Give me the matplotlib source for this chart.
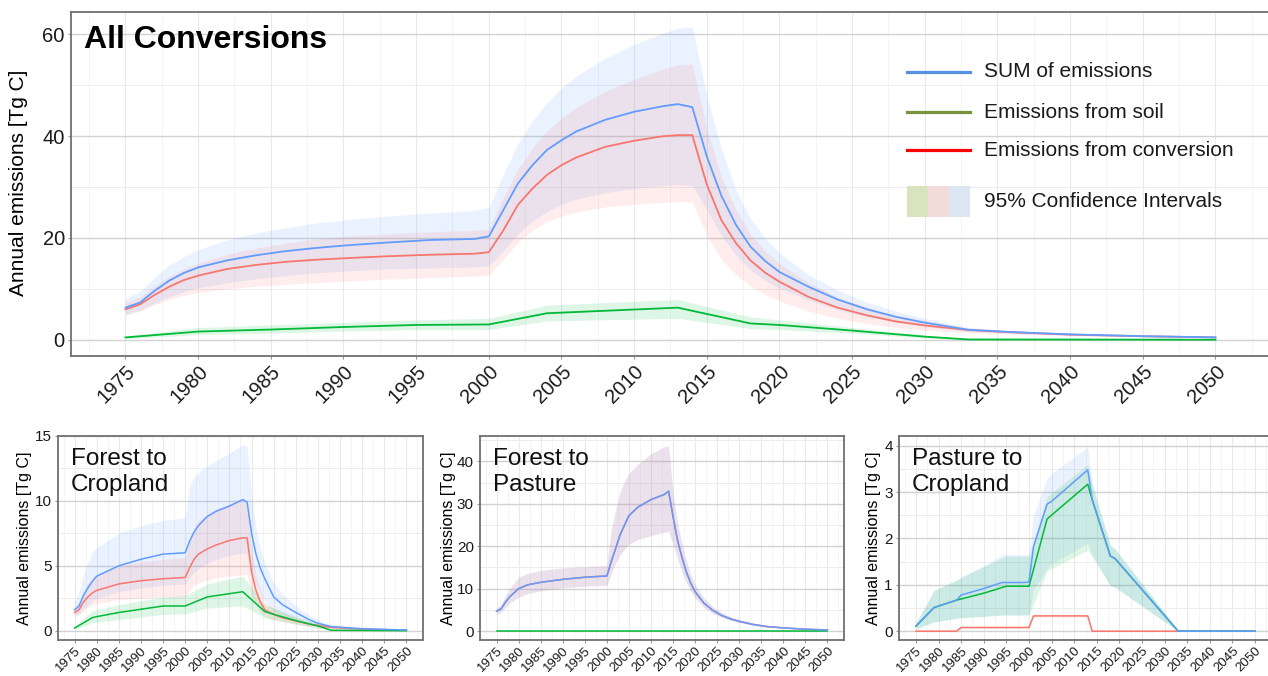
import matplotlib
matplotlib.use("Agg")
import matplotlib.pyplot as plt
from matplotlib.lines import Line2D
from matplotlib.patches import Rectangle

plt.rcParams['font.family'] = ['Liberation Sans', 'DejaVu Sans']

# ---------------- DATA ----------------
x_ticks = list(range(1975, 2051, 5))
x_tick_labels = [str(y) for y in x_ticks]

# All conversions
years_main = [1975, 1976, 1977, 1978, 1979, 1980, 1982, 1984, 1986, 1988, 1990, 1993, 1996, 1999,
              2000, 2001, 2002, 2003, 2004, 2005, 2006, 2008, 2010, 2012, 2013, 2014, 2015, 2016,
              2017, 2018, 2019, 2020, 2022, 2024, 2026, 2028, 2030, 2033, 2036, 2040, 2045, 2050]
sum_main = [6.3, 7.3, 9.6, 11.6, 13.1, 14.2, 15.6, 16.6, 17.4, 18.0, 18.5, 19.1, 19.6, 19.8,
            20.3, 25.5, 30.7, 34.3, 37.3, 39.2, 40.9, 43.2, 44.8, 45.9, 46.3, 45.7, 36.0, 28.3,
            22.6, 18.3, 15.5, 13.3, 10.4, 7.9, 6.0, 4.5, 3.35, 1.95, 1.5, 1.05, 0.7, 0.47]
sum_main_lo = [5.0, 5.8, 7.2, 8.4, 9.4, 10.2, 11.2, 12.0, 12.6, 13.1, 13.5, 13.9, 14.1, 14.3,
               14.5, 17.5, 20.8, 23.3, 25.2, 26.6, 27.6, 28.9, 29.7, 30.3, 30.5, 30.3, 25.5, 20.5,
               16.6, 13.7, 11.7, 10.1, 7.8, 5.9, 4.5, 3.4, 2.6, 1.6, 1.3, 0.9, 0.6, 0.4]
sum_main_hi = [8.1, 9.5, 12.3, 14.6, 16.3, 17.7, 19.6, 21.0, 22.0, 22.9, 23.5, 24.3, 24.9, 25.4,
               26.0, 32.5, 38.5, 43.0, 46.5, 49.5, 51.8, 55.3, 58.0, 60.3, 61.2, 61.5, 48.0, 37.5,
               29.5, 23.8, 20.0, 17.0, 12.8, 9.7, 7.4, 5.6, 4.2, 2.4, 1.8, 1.2, 0.8, 0.55]
conv_main = [5.97, 6.95, 8.8, 10.4, 11.7, 12.6, 13.9, 14.7, 15.3, 15.7, 16.0, 16.4, 16.7, 16.9,
             17.2, 21.5, 26.5, 29.7, 32.4, 34.3, 35.8, 37.9, 39.1, 40.0, 40.2, 40.2, 30.5, 23.5,
             19.0, 15.6, 13.2, 11.4, 8.4, 6.3, 4.8, 3.6, 2.8, 1.9, 1.45, 1.0, 0.68, 0.45]
conv_main_lo = [4.8, 5.6, 6.9, 7.9, 8.7, 9.3, 10.0, 10.5, 10.9, 11.2, 11.5, 11.9, 12.2, 12.5,
                12.7, 15.8, 19.2, 21.5, 23.2, 24.3, 25.1, 26.1, 26.6, 27.0, 27.1, 27.1, 20.5, 15.8,
                12.8, 10.5, 8.9, 7.6, 5.6, 4.2, 3.2, 2.4, 1.9, 1.4, 1.1, 0.8, 0.55, 0.35]
conv_main_hi = [7.3, 8.4, 10.6, 12.5, 13.9, 15.0, 16.8, 18.0, 19.0, 19.8, 20.3, 20.8, 21.2, 21.5,
                21.7, 28.0, 33.5, 37.7, 41.0, 43.6, 45.6, 48.8, 51.2, 53.2, 54.0, 54.2, 41.5, 32.0,
                25.6, 20.8, 17.5, 15.0, 11.2, 8.4, 6.4, 4.8, 3.8, 2.3, 1.75, 1.15, 0.78, 0.5]
years_soil_main = [1975, 1980, 1985, 1990, 1995, 2000, 2004, 2013, 2018, 2020, 2025, 2030, 2033, 2050]
soil_main = [0.45, 1.6, 2.0, 2.5, 2.9, 3.0, 5.2, 6.3, 3.2, 2.9, 1.8, 0.6, 0.05, 0.0]
soil_main_lo = [0.2, 1.0, 1.3, 1.7, 2.0, 2.0, 3.7, 4.2, 2.2, 2.0, 1.3, 0.3, 0.0, 0.0]
soil_main_hi = [0.7, 2.4, 2.9, 3.4, 3.9, 4.2, 6.8, 7.9, 4.5, 3.9, 2.4, 0.9, 0.15, 0.05]

# Forest to Cropland
years_fc = [1975, 1976, 1977, 1978, 1979, 1980, 1985, 1990, 1995, 2000, 2001, 2002, 2003, 2005, 2007,
            2010, 2013, 2014, 2015, 2016, 2017, 2018, 2020, 2022, 2025, 2028, 2030, 2033, 2040, 2050]
sum_fc = [1.6, 1.9, 2.7, 3.3, 3.8, 4.2, 5.0, 5.5, 5.9, 6.0, 6.9, 7.6, 8.1, 8.8, 9.2,
          9.6, 10.1, 9.9, 7.5, 5.9, 4.8, 4.0, 2.6, 2.0, 1.4, 0.85, 0.57, 0.31, 0.15, 0.05]
sum_fc_lo = [1.2, 1.3, 1.7, 2.0, 2.3, 2.5, 3.0, 3.3, 3.5, 3.6, 4.1, 4.5, 4.8, 5.2, 5.5,
             5.8, 6.0, 5.9, 4.5, 3.5, 2.8, 2.3, 1.5, 1.2, 0.8, 0.5, 0.33, 0.2, 0.1, 0.03]
sum_fc_hi = [2.2, 3.0, 4.3, 5.3, 6.0, 6.4, 7.5, 8.1, 8.5, 8.7, 11.2, 11.8, 12.2, 12.7, 13.1,
             13.7, 14.3, 14.2, 10.5, 8.0, 6.3, 5.2, 3.7, 2.8, 1.9, 1.2, 0.85, 0.45, 0.22, 0.08]
conv_fc = [1.4, 1.6, 2.2, 2.6, 2.9, 3.1, 3.6, 3.85, 4.0, 4.1, 4.85, 5.5, 5.9, 6.3, 6.6,
           6.95, 7.15, 7.15, 4.5, 3.1, 2.2, 1.6, 1.25, 1.0, 0.75, 0.5, 0.4, 0.25, 0.12, 0.04]
conv_fc_lo = [1.1, 1.2, 1.5, 1.8, 2.0, 2.1, 2.4, 2.5, 2.6, 2.6, 3.1, 3.5, 3.7, 3.9, 4.1,
              4.2, 4.3, 4.3, 2.8, 2.0, 1.4, 1.1, 0.85, 0.7, 0.5, 0.33, 0.26, 0.16, 0.08, 0.02]
conv_fc_hi = [1.8, 2.1, 3.0, 3.6, 4.0, 4.3, 5.0, 5.3, 5.5, 5.6, 6.9, 7.9, 8.5, 9.0, 9.4,
              9.8, 10.0, 10.0, 6.3, 4.3, 3.1, 2.2, 1.7, 1.4, 1.0, 0.68, 0.55, 0.34, 0.16, 0.06]
years_soil_fc = [1975, 1979, 1980, 1985, 1990, 1995, 2000, 2005, 2013, 2018, 2020, 2025, 2030, 2033, 2050]
soil_fc = [0.2, 1.0, 1.08, 1.4, 1.65, 1.9, 1.9, 2.6, 3.0, 1.47, 1.26, 0.77, 0.36, 0.03, 0.0]
soil_fc_lo = [0.1, 0.6, 0.65, 0.85, 1.05, 1.25, 1.3, 1.75, 1.9, 1.0, 0.85, 0.5, 0.2, 0.0, 0.0]
soil_fc_hi = [0.35, 1.5, 1.6, 2.0, 2.3, 2.6, 2.7, 3.6, 4.2, 2.0, 1.75, 1.1, 0.55, 0.08, 0.02]

# Forest to Pasture
years_fp = [1975, 1976, 1977, 1978, 1980, 1982, 1985, 1990, 1995, 2000, 2001, 2002, 2003, 2004, 2005,
            2007, 2010, 2013, 2014, 2015, 2016, 2017, 2018, 2019, 2020, 2022, 2024, 2026, 2028, 2030,
            2033, 2036, 2040, 2045, 2050]
sum_fp = [4.7, 5.2, 6.8, 8.1, 10.0, 10.9, 11.5, 12.2, 12.7, 13.0, 16.4, 19.5, 22.7, 25.0, 27.2,
          29.2, 31.0, 32.2, 33.0, 27.0, 21.5, 17.5, 14.0, 11.3, 9.3, 6.6, 4.9, 3.7, 2.9, 2.3,
          1.6, 1.1, 0.75, 0.45, 0.25]
sum_fp_lo = [4.0, 4.4, 5.6, 6.6, 8.0, 8.8, 9.5, 10.2, 10.6, 10.8, 13.5, 16.0, 18.0, 19.3, 20.5,
             21.6, 22.5, 23.3, 23.5, 20.5, 17.0, 14.0, 11.5, 9.4, 7.8, 5.6, 4.2, 3.2, 2.5, 2.0,
             1.4, 0.95, 0.65, 0.38, 0.2]
sum_fp_hi = [5.5, 6.2, 8.3, 10.0, 12.7, 13.6, 14.3, 14.9, 15.2, 15.5, 23.9, 28.6, 32.9, 35.3, 37.2,
             39.3, 41.8, 43.4, 43.7, 32.5, 25.5, 20.8, 16.6, 13.4, 11.0, 7.8, 5.8, 4.4, 3.4, 2.7,
             1.9, 1.3, 0.9, 0.55, 0.3]
conv_fp = sum_fp
conv_fp_lo = sum_fp_lo
conv_fp_hi = sum_fp_hi
years_soil_fp = [1975, 2050]
soil_fp = [0.0, 0.0]

# Pasture to Cropland
years_pc = [1975, 1979, 1984, 1985, 1990, 1994, 1999, 2000, 2001, 2004, 2005, 2013, 2014, 2018, 2019, 2033, 2050]
sum_pc = [0.11, 0.51, 0.67, 0.78, 0.92, 1.05, 1.05, 1.06, 1.82, 2.74, 2.8, 3.48, 2.83, 1.62, 1.57, 0.0, 0.0]
sum_pc_lo = [0.05, 0.2, 0.28, 0.3, 0.32, 0.35, 0.35, 0.36, 0.9, 1.35, 1.45, 1.9, 1.65, 0.98, 0.95, 0.0, 0.0]
sum_pc_hi = [0.17, 0.88, 1.1, 1.18, 1.4, 1.65, 1.65, 1.66, 2.5, 3.3, 3.4, 3.97, 3.2, 1.85, 1.78, 0.02, 0.0]
years_soil_pc = [1975, 1979, 1984, 1990, 1995, 2000, 2004, 2013, 2014, 2018, 2019, 2033, 2050]
soil_pc = [0.11, 0.51, 0.67, 0.82, 0.97, 0.97, 2.42, 3.17, 2.83, 1.62, 1.57, 0.0, 0.0]
soil_pc_lo = [0.05, 0.2, 0.28, 0.32, 0.35, 0.35, 1.3, 1.75, 1.6, 0.98, 0.95, 0.0, 0.0]
soil_pc_hi = [0.17, 0.88, 1.1, 1.4, 1.62, 1.62, 2.9, 3.6, 3.15, 1.85, 1.78, 0.02, 0.0]
years_conv_pc = [1975, 1984, 1985, 2000, 2001, 2013, 2014, 2050]
conv_pc = [0.0, 0.0, 0.08, 0.08, 0.33, 0.33, 0.0, 0.0]
conv_pc_lo = [0.0, 0.0, 0.06, 0.06, 0.3, 0.3, 0.0, 0.0]
conv_pc_hi = [0.0, 0.0, 0.1, 0.1, 0.36, 0.36, 0.0, 0.0]

legend_labels = ["SUM of emissions", "Emissions from soil", "Emissions from conversion"]
ci_label = "95% Confidence Intervals"
ylabel = "Annual emissions [Tg C]"

# ---------------- STYLE ----------------
C_BLUE = '#619CFF'
C_RED = '#F8766D'
C_GREEN = '#00BA38'
BAND_A = 0.13

W, H = 1268, 676
fig = plt.figure(figsize=(W / 100, H / 100), dpi=100)


def px_rect(x0, x1, ytop, ybot):
    return [x0 / W, 1 - ybot / H, (x1 - x0) / W, (ybot - ytop) / H]


def style_axes(ax, ylim, yticks, yminor, xfs, yfs, xpad):
    ax.set_xlim(1971.25, 2053.75)
    ax.set_ylim(*ylim)
    ax.set_xticks(x_ticks)
    ax.set_xticklabels(x_tick_labels, rotation=45, ha='right', va='top',
                       rotation_mode='anchor', fontsize=xfs, color='#1a1a1a')
    ax.set_xticks([y + 2.5 for y in range(1970, 2051, 5)], minor=True)
    ax.set_yticks(yticks)
    ax.set_yticklabels([str(t) for t in yticks], fontsize=yfs, color='#1a1a1a')
    ax.set_yticks(yminor, minor=True)
    ax.tick_params(which='major', length=2.5, width=0.8, color='#999999', pad=2)
    ax.tick_params(axis='x', which='major', pad=xpad)
    ax.tick_params(which='minor', length=0)
    ax.grid(which='major', axis='y', color='#d2d2d2', lw=1.0)
    ax.grid(which='minor', axis='y', color='#ececec', lw=0.7)
    ax.grid(which='major', axis='x', color='#eaeaea', lw=0.8)
    ax.grid(which='minor', axis='x', color='#f2f2f2', lw=0.6)
    ax.set_axisbelow(True)
    for s in ax.spines.values():
        s.set_color('#707070')
        s.set_linewidth(1.3)


def draw(ax, ys, s, slo, shi, yc, c, clo, chi, yso, so, solo, sohi, lw):
    ax.fill_between(ys, slo, shi, color=C_BLUE, alpha=BAND_A, lw=0)
    ax.fill_between(yc, clo, chi, color=C_RED, alpha=BAND_A, lw=0)
    if solo is not None:
        ax.fill_between(yso, solo, sohi, color=C_GREEN, alpha=BAND_A, lw=0)
    ax.plot(yc, c, color=C_RED, lw=lw, zorder=3)
    ax.plot(yso, so, color=C_GREEN, lw=lw, zorder=4)
    ax.plot(ys, s, color=C_BLUE, lw=lw, zorder=5)


# ---- Main panel ----
ax = fig.add_axes(px_rect(71, 1270, 12, 356))
draw(ax, years_main, sum_main, sum_main_lo, sum_main_hi,
     years_main, conv_main, conv_main_lo, conv_main_hi,
     years_soil_main, soil_main, soil_main_lo, soil_main_hi, 1.3)
style_axes(ax, (-3.2, 64.4), [0, 20, 40, 60], [10, 30, 50], 14.5, 14.5, 2)
fig.text(84 / W, 1 - 25 / H, "All Conversions", fontsize=23, fontweight='bold',
         ha='left', va='top')
fig.text(19 / W, 1 - 183 / H, ylabel, rotation=90, ha='center', va='center', fontsize=15)

# legend (manual, in axes fraction)
leg_cols = ['#5591e0', '#77933c', '#ff0000']
leg_y = [0.8256, 0.7093, 0.5988]
for lab, col, yy in zip(legend_labels, leg_cols, leg_y):
    ax.add_line(Line2D([0.697, 0.750], [yy, yy], color=col, lw=2.3,
                       transform=ax.transAxes, zorder=10))
    ax.text(0.7615, yy, lab, transform=ax.transAxes, fontsize=15, va='center', ha='left',
            color='#1a1a1a', zorder=10)
ci_cols = ['#d7e4bd', '#f2dcdb', '#dce6f2']
for i, col in enumerate(ci_cols):
    ax.add_patch(Rectangle((0.697 + i * 0.0175, 0.404), 0.0175, 0.090, color=col,
                           transform=ax.transAxes, lw=0, zorder=10))
ax.text(0.7615, 0.4477, ci_label, transform=ax.transAxes, fontsize=15, va='center', ha='left',
        color='#1a1a1a', zorder=10)

# ---- Bottom panels ----
panels = [
    dict(rect=(58, 423), title="Forest to\nCropland", tx=71, ylx=25,
         ylim=(-0.72, 15.0), yt=[0, 5, 10, 15], ym=[2.5, 7.5, 12.5],
         data=(years_fc, sum_fc, sum_fc_lo, sum_fc_hi, years_fc, conv_fc, conv_fc_lo, conv_fc_hi,
               years_soil_fc, soil_fc, soil_fc_lo, soil_fc_hi)),
    dict(rect=(480, 844), title="Forest to\nPasture", tx=493, ylx=448,
         ylim=(-2.1, 46.0), yt=[0, 10, 20, 30, 40], ym=[5, 15, 25, 35, 45],
         data=(years_fp, sum_fp, sum_fp_lo, sum_fp_hi, years_fp, conv_fp, conv_fp_lo, conv_fp_hi,
               years_soil_fp, soil_fp, None, None)),
    dict(rect=(899, 1272), title="Pasture to\nCropland", tx=912, ylx=873,
         ylim=(-0.19, 4.21), yt=[0, 1, 2, 3, 4], ym=[0.5, 1.5, 2.5, 3.5],
         data=(years_pc, sum_pc, sum_pc_lo, sum_pc_hi, years_conv_pc, conv_pc, conv_pc_lo, conv_pc_hi,
               years_soil_pc, soil_pc, soil_pc_lo, soil_pc_hi)),
]
for p in panels:
    a = fig.add_axes(px_rect(p['rect'][0], p['rect'][1], 436, 640))
    draw(a, *p['data'], 1.1)
    style_axes(a, p['ylim'], p['yt'], p['ym'], 9.5, 11, 1.0)
    fig.text(p['tx'] / W, 1 - 448 / H, p['title'], fontsize=17.5, ha='left', va='top',
             linespacing=1.25, color='#111111')
    fig.text(p['ylx'] / W, 1 - 538 / H, ylabel, rotation=90, ha='center', va='center',
             fontsize=11.5)

fig.savefig("out.png", dpi=100)
